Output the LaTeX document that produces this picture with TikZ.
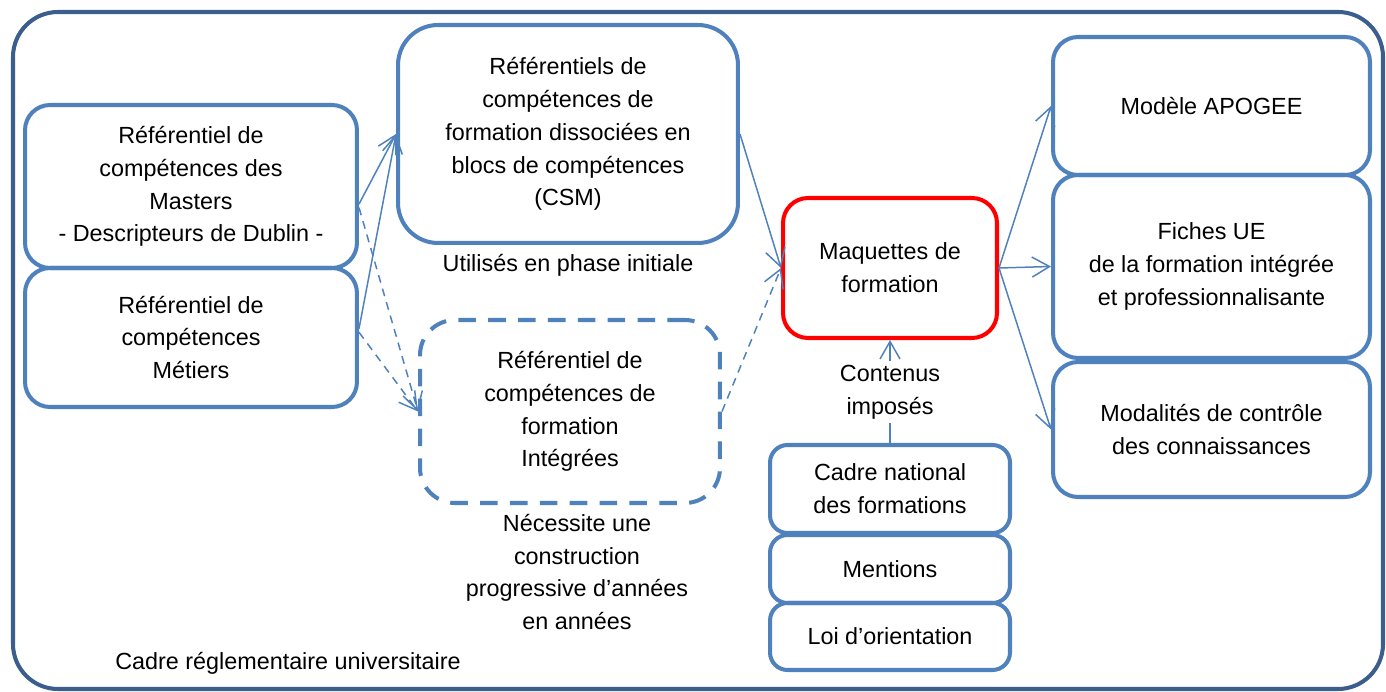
\documentclass[tikz,border=0pt]{standalone}
\usepackage{fontspec}
\setmainfont{Liberation Sans}
\usetikzlibrary{arrows.meta}
\definecolor{boxblue}{HTML}{4F81BD}
\definecolor{frameblue}{HTML}{3B5E8C}
\begin{document}
\begin{tikzpicture}[x=0.02cm,y=-0.02cm,>={Straight Barb[length=3.5mm,width=4mm]},
    font=\fontsize{13.3}{18.7}\selectfont,
    box/.style={draw=boxblue,line width=2.3pt,rounded corners=0.5cm,align=center,inner sep=0pt},
    dashbox/.style={box,dash pattern=on 10pt off 7pt},
    redbox/.style={box,draw=red},
    smallbox/.style={box,rounded corners=0.35cm,minimum width=4.8cm},
    sidebox/.style={box,minimum width=6.34cm},
    link/.style={draw=boxblue,line width=0.85pt,->},
    dlink/.style={link,dash pattern=on 4.5pt off 3.5pt}]
    \useasboundingbox (0,0) rectangle (1386,692);
    % cadre
    \draw[frameblue,line width=2.3pt,rounded corners=0.9cm] (13,12) rectangle (1383,689);
    \node[align=left] (cadre) at (288,663) {Cadre réglementaire universitaire};
    % referentiels
    \node[box,minimum width=6.64cm,minimum height=3.26cm] (masters) at (191,186.5)
        {Référentiel de\\compétences des\\Masters\\- Descripteurs de Dublin -};
    \node[box,minimum width=6.64cm,minimum height=2.78cm] (metiers) at (191,337.5)
        {Référentiel de\\compétences\\Métiers};
    \node[box,rounded corners=0.8cm,minimum width=6.8cm,minimum height=4.36cm] (csm) at (568,134)
        {Référentiels de\\compétences de\\formation dissociées en\\blocs de compétences\\(CSM)};
    \node (initiale) at (568,265) {Utilisés en phase initiale};
    \node[dashbox,rounded corners=0.7cm,minimum width=6cm,minimum height=3.66cm] (integ) at (570,411.5)
        {Référentiel de\\compétences de\\formation\\Intégrées};
    \node[align=center] (progr) at (577,572)
        {Nécessite une\\construction\\progressive d’années\\en années};
    % maquettes
    \node[redbox,minimum width=4.28cm,minimum height=2.8cm] (maq) at (890,268)
        {Maquettes de\\formation};
    \node[align=center,inner sep=2pt] (contenus) at (890,392) {Contenus\\imposés};
    \node[smallbox,minimum height=1.76cm] (cadrenat) at (890,489) {Cadre national\\des formations};
    \node[smallbox,minimum height=1.36cm] (mentions) at (890,569) {Mentions};
    \node[smallbox,minimum height=1.34cm] (loi) at (890,636.5) {Loi d’orientation};
    % sorties
    \node[sidebox,minimum height=2.76cm] (apogee) at (1211.5,106) {Modèle APOGEE};
    \node[sidebox,minimum height=3.66cm] (fiches) at (1211.5,266.5)
        {Fiches UE\\de la formation intégrée\\et professionnalisante};
    \node[sidebox,minimum height=2.7cm] (mcc) at (1211.5,429.5)
        {Modalités de contrôle\\des connaissances};
    % liens
    \draw[link] ([yshift=-10pt]masters.east) -- (csm.west);
    \draw[link] ([yshift=5pt]metiers.east) -- (csm.west);
    \draw[dlink] ([yshift=-12pt]masters.east) -- (integ.west);
    \draw[dlink] ([yshift=3pt]metiers.east) -- (integ.west);
    \draw[link] (csm.east) -- (maq.west);
    \draw[dlink] (integ.east) -- (maq.west);
    \draw[draw=boxblue,line width=0.85pt] (cadrenat.north) -- (contenus.south);
    \draw[link] (contenus.north) -- (maq.south);
    \foreach \n in {apogee,fiches,mcc}
    {
        \draw[link] (maq.east) -- (\n.west);
    }
\end{tikzpicture}
\end{document}
